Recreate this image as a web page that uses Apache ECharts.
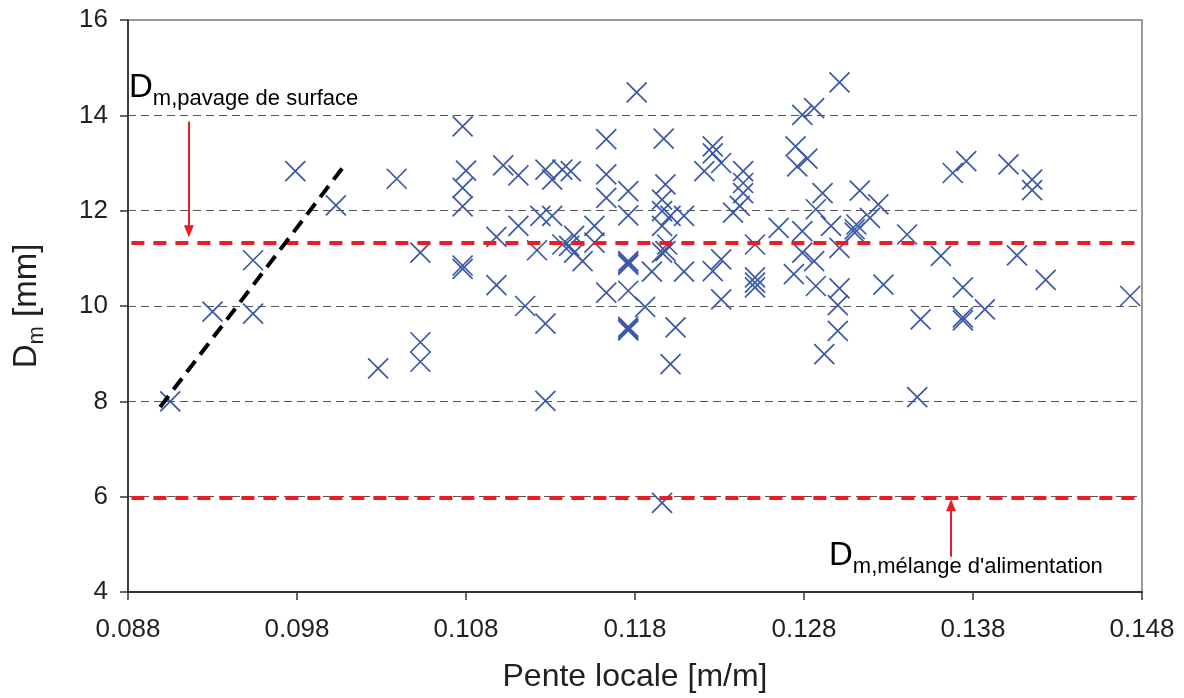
<!DOCTYPE html>
<html><head><meta charset="utf-8">
<script src="https://cdn.jsdelivr.net/npm/echarts@6/dist/echarts.min.js"></script>
<style>html,body{margin:0;padding:0;background:#fff}#c{width:1184px;height:698px}</style>
</head><body><div id="c"></div>
<script>
// Pente locale [m/m]
const slopeX = [
  0.0905,0.0930,0.0954,0.0954,0.0979,0.1003,0.1028,0.1039,0.1053,0.1053,0.1053,
  0.1078,0.1080,0.1078,0.1078,0.1078,0.1078,0.1102,0.1111,0.1098,0.1111,0.1098,0.1115,0.1127,0.1127,
  0.1122,0.1124,0.1131,0.1127,0.1131,0.1137,0.1142,0.1137,0.1144,0.1144,0.1149,0.1156,0.1156,0.1141,
  0.1163,0.1163,0.1163,0.1163,0.1176,0.1176,0.1176,0.1176,0.1176,0.1176,0.1176,0.1176,0.1176,
  0.1181,0.1186,0.1190,0.1196,0.1196,0.1196,0.1201,0.1198,0.1197,0.1209,0.1199,0.1196,0.1198,
  0.1201,0.1204,0.1209,0.1196,0.1221,0.1226,0.1226,0.1231,0.1226,0.1231,0.1231,
  0.1244,0.1244,0.1244,0.1238,0.1242,0.1251,0.1251,0.1251,0.1251,
  0.1301,0.1279,0.1286,0.1275,0.1282,0.1276,0.1291,0.1287,0.1313,0.1324,0.1319,0.1311,0.1310,0.1310,
  0.1265,0.1279,0.1296,0.1301,0.1279,0.1286,0.1274,0.1287,0.1301,0.1300,0.1300,0.1292,
  0.1327,0.1341,0.1349,0.1347,0.1361,0.1368,0.1376,0.1374,0.1374,0.1374,0.1387,
  0.1401,0.1406,0.1415,0.1415,0.1423,0.1473
];
// Dm [mm]
const dmValues = [
  8.00,9.88,10.96,9.84,12.83,12.11,8.69,12.67,11.12,9.24,8.83,
  13.77,12.84,12.48,12.09,10.85,10.78,12.95,12.74,11.45,11.68,10.44,10.00,9.63,8.01,
  11.17,11.89,11.89,12.86,12.65,12.86,12.83,11.29,11.47,11.12,10.94,11.68,11.33,11.26,
  13.50,12.76,12.27,10.28,12.41,11.90,10.94,10.90,10.86,10.32,9.56,9.52,9.49,
  14.48,9.98,10.72,12.23,11.99,11.68,11.89,12.55,13.51,11.89,11.29,11.12,11.15,
  8.78,9.55,10.72,5.87,12.83,13.35,13.20,13.00,10.73,10.98,10.14,
  12.83,12.58,12.37,11.96,12.10,11.29,10.60,10.49,10.39,
  14.69,14.01,14.15,13.35,13.09,12.93,12.37,12.03,12.42,12.13,11.85,11.71,11.61,11.54,
  11.64,11.57,11.68,11.22,11.12,10.94,10.67,10.42,10.37,10.02,9.48,8.99,
  10.45,11.50,9.72,8.09,11.05,12.79,13.04,10.39,9.76,9.70,9.93,
  12.97,11.06,12.65,12.43,10.55,10.21
];
const xTickLabels = ['0.088','0.098','0.108','0.118','0.128','0.138','0.148'];
const yTickLabels = ['4','6','8','10','12','14','16'];
// black dashed trend line
const trendX = [0.0899, 0.1007];
const trendY = [7.88, 12.90];
// red reference levels and their horizontal extent
const refLevels = [11.33, 5.98];
const refFromX = 0.0882;
const refToX = 0.1479;
// annotation arrows
const arrowX = [0.0916, 0.1367];
const arrowFrom = [13.87, 4.74];
const arrowTo = [11.57, 5.82];
// annotation labels
const labelMain = ['D', 'D'];
const labelSub = ['m,pavage de surface', "m,mélange d'alimentation"];
const labelX = [0.08806, 0.12948];
const labelY = [14.12, 4.305];

const FONT = 'Liberation Sans, Arial, sans-serif';
const TXT = '#231f20';
const RED = '#ec1c24';
const BLUE = '#3a58a6';

const chart = echarts.init(document.getElementById('c'), null, {renderer: 'canvas'});
const pts = slopeX.map((x, i) => [x, dmValues[i]]);

const markData = refLevels.map(v => ([
  {coord: [refFromX, v], symbol: 'none', lineStyle: {color: RED, width: 4, type: [13, 9]}},
  {coord: [refToX, v], symbol: 'none'}
]));
arrowX.forEach((x, i) => {
  markData.push([
    {coord: [x, arrowFrom[i]], symbol: 'none', lineStyle: {color: RED, width: 2, type: 'solid'}},
    {coord: [x, arrowTo[i]], symbol: 'triangle', symbolSize: [10, 12]}
  ]);
});

const richLabel = {
  d: {fontSize: 33, fontFamily: FONT, color: TXT, verticalAlign: 'bottom', padding: [0, 0, 5, 0]},
  s: {fontSize: 22, fontFamily: FONT, color: TXT, verticalAlign: 'bottom'}
};

chart.setOption({
  animation: false,
  backgroundColor: '#fff',
  grid: {left: 128, right: 42, top: 20, bottom: 104, show: true, borderColor: '#9a9a9a', borderWidth: 2, backgroundColor: 'transparent'},
  xAxis: {
    type: 'value', min: 0.088, max: 0.148, interval: 0.01,
    axisLine: {show: true, onZero: false, lineStyle: {color: '#333', width: 2}},
    axisTick: {show: true, inside: false, length: 8, lineStyle: {color: '#333', width: 1.5}},
    axisLabel: {margin: 25, fontSize: 26, fontFamily: FONT, color: TXT,
      formatter: v => xTickLabels[Math.round((v - 0.088) / 0.01)] || v.toFixed(3)},
    splitLine: {show: false},
    name: 'Pente locale [m/m]', nameLocation: 'middle', nameGap: 69,
    nameTextStyle: {fontSize: 32, fontFamily: FONT, color: TXT}
  },
  yAxis: {
    type: 'value', min: 4, max: 16, interval: 2,
    axisLine: {show: true, onZero: false, lineStyle: {color: '#222', width: 1.5}},
    axisTick: {show: true, inside: false, length: 8, lineStyle: {color: '#333', width: 1.5}},
    axisLabel: {margin: 20, fontSize: 26, fontFamily: FONT, color: TXT,
      formatter: v => yTickLabels[Math.round((v - 4) / 2)] || String(v)},
    splitLine: {show: true, showMinLine: false, showMaxLine: false, lineStyle: {color: '#555', width: 1, type: [8, 5]}},
    name: '{d|D}{s|m}{d| [mm]}', nameLocation: 'middle', nameGap: 80,
    nameTextStyle: {rich: richLabel}
  },
  series: [
    {
      type: 'scatter', data: pts, z: 3,
      symbol: 'path://M0,0L10,10M10,0L0,10', symbolSize: 20,
      itemStyle: {color: BLUE, borderColor: BLUE, borderWidth: 1.7, opacity: 1},
      emphasis: {disabled: true},
      markLine: {silent: true, animation: false, label: {show: false}, symbol: ['none', 'none'], data: markData, z: 4}
    },
    {
      type: 'line', data: trendX.map((x, i) => [x, trendY[i]]), z: 5,
      symbol: 'none', lineStyle: {color: '#000', width: 4, type: [14, 8]}
    }
  ]
});

const graphics = labelX.map((x, i) => {
  const p = chart.convertToPixel({gridIndex: 0}, [x, labelY[i]]);
  return {
    type: 'text', x: p[0], y: p[1], z: 10,
    style: {text: '{d|' + labelMain[i] + '}{s|' + labelSub[i] + '}', rich: richLabel, align: 'left', verticalAlign: 'bottom'}
  };
});
chart.setOption({graphic: graphics});
</script>
</body></html>
